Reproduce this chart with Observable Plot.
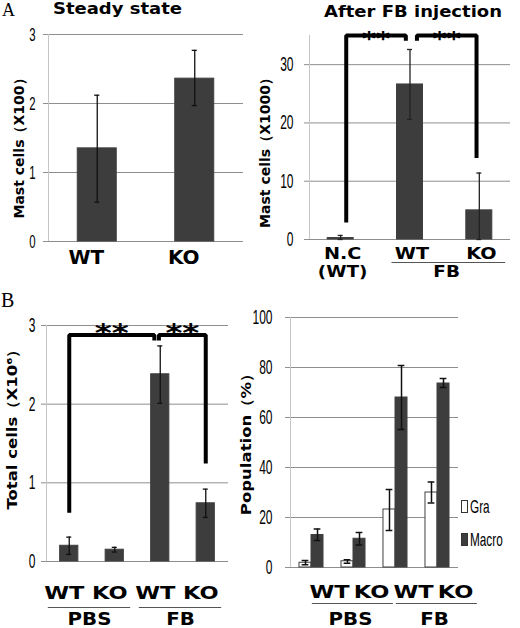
<!DOCTYPE html>
<html>
<head>
<meta charset="utf-8">
<script src="https://cdn.jsdelivr.net/npm/d3@7"></script>
<script src="https://cdn.jsdelivr.net/npm/@observablehq/plot@0.6"></script>
<style>
html,body{margin:0;padding:0;background:#fff;}
#fig{position:relative;width:520px;height:628px;overflow:hidden;background:#fff;}
#fig > svg, #fig > .txt{position:absolute;}
.txt{white-space:nowrap;color:#000;}
.title{font-family:"DejaVu Sans",Verdana,sans-serif;font-weight:bold;font-size:15px;line-height:18px;text-align:center;transform:scaleX(1.2);}
.letter{font-family:"Liberation Serif","DejaVu Serif",serif;}
.legend{font-family:"Liberation Sans",Arial,sans-serif;font-size:19px;line-height:19px;height:19px;display:flex;align-items:center;}
.sw{display:inline-block;width:7px;height:13px;margin-right:2px;box-sizing:border-box;border:1px solid #333;}
.legend .lab{display:inline-block;transform:scaleX(0.62);transform-origin:left center;}
</style>
</head>
<body>
<div id="fig"></div>
<script>
// ---------------- DATA ----------------
// Panel A, left: steady state
const steadyCategories = ["WT", "KO"];
const steadyMean = [1.35, 2.36];
const steadyLow = [0.57, 1.97];
const steadyHigh = [2.12, 2.77];
const steadyTicks = [0, 1, 2, 3];

// Panel A, right: after FB injection
const fbCategories = ["N.C", "WT", "KO"];
const fbGroupsOf = ["(WT)", "FB", "FB"];
const fbMean = [0.25, 26.6, 5.0];
const fbLow = [0, 20.6, 0];
const fbHigh = [0.7, 32.6, 11.4];
const fbTicks = [0, 10, 20, 30];
const fbBrackets = [
  {from: 0, to: 1, footFrom: 2.9, footTo: 34.1, top: 35, label: "**"},
  {from: 1, to: 2, footFrom: 34.1, footTo: 14, top: 35, label: "**"}
];

// Panel B, left: total cells
const totalCategories = ["WT", "KO", "WT", "KO"];
const totalGroupsOf = ["PBS", "PBS", "FB", "FB"];
const totalMean = [0.2, 0.15, 2.38, 0.74];
const totalLow = [0.09, 0.12, 2.01, 0.56];
const totalHigh = [0.31, 0.18, 2.74, 0.92];
const totalTicks = [0, 1, 2, 3];
const totalBrackets = [
  {from: 0, to: 2, footFrom: 0.62, footTo: 2.81, top: 2.88, label: "**"},
  {from: 2, to: 3, footFrom: 2.81, footTo: 1.245, top: 2.88, label: "**"}
];

// Panel B, right: population (%)
const popCategories = ["WT", "KO", "WT", "KO"];
const popGroupsOf = ["PBS", "PBS", "FB", "FB"];
const popSeries = ["Gra", "Macro"];
const graMean = [1.9, 2.5, 23.2, 30.0];
const graLow = [1.1, 1.7, 14.8, 25.8];
const graHigh = [2.8, 3.1, 31.2, 34.2];
const macroMean = [13.0, 11.5, 68.0, 73.6];
const macroLow = [10.8, 9.0, 55.2, 72.0];
const macroHigh = [15.4, 14.0, 80.8, 75.6];
const popTicks = [0, 20, 40, 60, 80, 100];

// ---------------- STYLE ----------------
const GRID = "#8e8e8e", AXIS = "#c6c6c6", BAR = "#3d3d3d";
const TICK_FONT = "'Liberation Sans', Arial, sans-serif";
const BOLD_FONT = "'DejaVu Sans', Verdana, sans-serif";
const fig = document.getElementById("fig");

function stretch(svg, tag, sx) {
  svg.querySelectorAll(`g[aria-description="${tag}"] text`).forEach(t => {
    t.setAttribute("transform", (t.getAttribute("transform") || "") + ` scale(${sx},1)`);
  });
}

function buildPanel(cfg) {
  const nS = cfg.series.length;
  const rows = [];
  cfg.series.forEach((s, si) => s.mean.forEach((v, i) =>
    rows.push({i, si, name: s.name, v, lo: s.low[i], hi: s.high[i]})));
  const bw = cfg.barWidth;
  const bx1 = d => d.i + (d.si - nS / 2) * bw;
  const bc = d => bx1(d) + bw / 2;
  const cats = cfg.categories.map((c, i) => ({c, i}));
  const groups = [];
  (cfg.groupsOf || []).forEach((g, i) => {
    const last = groups[groups.length - 1];
    if (last && last.label === g) last.to = i; else groups.push({label: g, from: i, to: i});
  });
  const [xmin] = cfg.xDomain;
  const [ymin, ymax] = cfg.yDomain;
  const brackets = (cfg.brackets || []).map((b, k) => {
    const xa = b.from + cfg.legOffsets[k][0], xb = b.to + cfg.legOffsets[k][1];
    return {...b, k, xa, xb, sx: (xa + xb) / 2};
  });
  const bracketPts = brackets.flatMap(b => [
    {k: b.k, x: b.xa, y: b.footFrom}, {k: b.k, x: b.xa, y: b.top},
    {k: b.k, x: b.xb, y: b.top}, {k: b.k, x: b.xb, y: b.footTo}
  ]);
  const marks = [
    Plot.ruleY(cfg.ticks, {stroke: GRID, strokeWidth: 1, insetLeft: -5}),
    Plot.ruleX([xmin], {y1: ymin, y2: ymax, stroke: AXIS, strokeWidth: 1}),
    Plot.text(cfg.ticks, {y: d => d, text: d => String(d), frameAnchor: "left", textAnchor: "end",
      lineAnchor: "middle", dx: -(5 + cfg.tickPad), fontFamily: TICK_FONT, fontSize: cfg.tickSize,
      fill: "black", ariaDescription: "ytick"}),
    Plot.rect(rows, {x1: bx1, x2: d => bx1(d) + bw, y1: ymin, y2: "v", fill: "name",
      stroke: "#404040", strokeWidth: 1}),
    Plot.ruleX(rows, {x: bc, y1: "lo", y2: "hi", stroke: cfg.errColor, strokeWidth: cfg.errWidth}),
    Plot.ruleY(rows, {y: "hi", x1: d => bc(d) - cfg.cap, x2: d => bc(d) + cfg.cap, stroke: cfg.errColor, strokeWidth: cfg.errWidth}),
    Plot.ruleY(rows, {y: "lo", x1: d => bc(d) - cfg.cap, x2: d => bc(d) + cfg.cap, stroke: cfg.errColor, strokeWidth: cfg.errWidth}),
    Plot.text(cats, {x: "i", text: "c", frameAnchor: "bottom", lineAnchor: "bottom", textAnchor: "middle",
      dy: cfg.catDy, dx: cfg.catDx, fontFamily: BOLD_FONT, fontWeight: "bold", fontSize: cfg.catSize,
      fill: "black", ariaDescription: "category"}),
    Plot.ruleY(groups.filter(g => g.to > g.from), {y: () => ymin, x1: g => g.from - cfg.groupPad[0],
      x2: g => g.to + cfg.groupPad[1], dy: cfg.groupLineDy, stroke: "#555", strokeWidth: 1}),
    Plot.text(groups, {x: g => (g.from + g.to) / 2, text: "label", frameAnchor: "bottom", lineAnchor: "bottom",
      textAnchor: "middle", dy: cfg.groupDy, dx: cfg.groupTextDx, fontFamily: BOLD_FONT, fontWeight: "bold",
      fontSize: cfg.groupSize, fill: "black", ariaDescription: "group"}),
    Plot.text(brackets, {x: "sx", y: "top", text: "label", lineAnchor: "bottom", textAnchor: "middle",
      dy: cfg.starDy, fontFamily: BOLD_FONT, fontWeight: "bold", fontSize: cfg.starSize, fill: "black",
      ariaDescription: "stars"}),
    Plot.line(bracketPts, {x: "x", y: "y", z: "k", stroke: "black", strokeWidth: 4,
      strokeLinejoin: "miter", strokeLinecap: "butt"}),
    Plot.text([cfg.yLabel], {text: d => d, frameAnchor: "left", rotate: -90, textAnchor: "middle",
      lineAnchor: "middle", dx: cfg.yLabelDx, dy: cfg.yLabelDy, fontFamily: BOLD_FONT, fontWeight: "bold",
      fontSize: 14, fill: "black", ariaDescription: "ylabel"})
  ];
  const svg = Plot.plot({
    width: cfg.width, height: cfg.height,
    marginLeft: cfg.mL, marginRight: cfg.mR, marginTop: cfg.mT, marginBottom: cfg.mB,
    x: {domain: cfg.xDomain, axis: null},
    y: {domain: cfg.yDomain, axis: null},
    color: {domain: cfg.series.map(s => s.name), range: cfg.series.map(s => s.fill)},
    style: {background: "transparent", overflow: "visible", fontFamily: TICK_FONT, fontSize: "18px", color: "black"},
    marks
  });
  stretch(svg, "ytick", 0.6);
  stretch(svg, "category", cfg.catScale);
  stretch(svg, "group", cfg.groupScale);
  stretch(svg, "stars", 1.35);
  stretch(svg, "ylabel", cfg.yLabelScale);
  svg.style.position = "absolute";
  svg.style.left = cfg.left + "px";
  svg.style.top = cfg.top + "px";
  fig.appendChild(svg);
  return svg;
}

// Panel A left
buildPanel({
  left: 0, top: 0, width: 260, height: 280, mL: 48, mR: 17, mT: 34, mB: 39,
  xDomain: [-0.5, 1.5], yDomain: [0, 3], ticks: steadyTicks, tickSize: 19, tickPad: 8,
  categories: steadyCategories,
  series: [{name: "Mast cells", mean: steadyMean, low: steadyLow, high: steadyHigh, fill: BAR}],
  barWidth: 0.4, cap: 0.026, errColor: "#111", errWidth: 1.3,
  catSize: 20, catScale: 1.0, catDy: 22, catDx: -11,
  yLabel: "Mast cells（X100）", yLabelDx: -29, yLabelDy: 7, yLabelScale: 1.0
});

// Panel A right
buildPanel({
  left: 250, top: 0, width: 270, height: 280, mL: 59, mR: 10, mT: 35, mB: 41,
  xDomain: [-0.45, 2.45], yDomain: [0, 35], ticks: fbTicks, tickSize: 20, tickPad: 11,
  categories: fbCategories, groupsOf: fbGroupsOf,
  series: [{name: "Mast cells", mean: fbMean, low: fbLow, high: fbHigh, fill: BAR}],
  barWidth: 0.375, cap: 0.036, errColor: "#222", errWidth: 1.3,
  catSize: 16, catScale: 1.2, catDy: 19, catDx: 2,
  groupSize: 16, groupScale: 1.15, groupDy: 37, groupTextDx: 2, groupLineDy: 23, groupPad: [0.26, 0.38],
  brackets: fbBrackets, legOffsets: [[0.08, -0.06], [0.10, -0.04]], starSize: 20, starDy: 9,
  yLabel: "Mast cells（X1000）", yLabelDx: -44, yLabelDy: 12, yLabelScale: 1.0
});

// Panel B left
buildPanel({
  left: 0, top: 280, width: 260, height: 348, mL: 46, mR: 32, mT: 45, mB: 67,
  xDomain: [-0.5, 3.5], yDomain: [0, 3], ticks: totalTicks, tickSize: 20, tickPad: 6,
  categories: totalCategories, groupsOf: totalGroupsOf,
  series: [{name: "Total cells", mean: totalMean, low: totalLow, high: totalHigh, fill: BAR}],
  barWidth: 0.4, cap: 0.055, errColor: "#111", errWidth: 1.3,
  catSize: 18, catScale: 1.25, catDy: 37, catDx: -5,
  groupSize: 18, groupScale: 1.1, groupDy: 63, groupTextDx: -2.5, groupLineDy: 46, groupPad: [0.46, 0.35],
  brackets: totalBrackets, legOffsets: [[0, -0.13], [-0.03, 0]], starSize: 24, starDy: 6,
  yLabel: "Total cells（X10⁶）", yLabelDx: -34, yLabelDy: -18, yLabelScale: 1.18
});

// Panel B right
buildPanel({
  left: 236, top: 280, width: 284, height: 348, mL: 54, mR: 62, mT: 37, mB: 61,
  xDomain: [-0.5, 3.5], yDomain: [0, 100], ticks: popTicks, tickSize: 20, tickPad: 13,
  categories: popCategories, groupsOf: popGroupsOf,
  series: [
    {name: popSeries[0], mean: graMean, low: graLow, high: graHigh, fill: "white"},
    {name: popSeries[1], mean: macroMean, low: macroLow, high: macroHigh, fill: BAR}
  ],
  barWidth: 0.286, cap: 0.08, errColor: "#111", errWidth: 1.5,
  catSize: 18, catScale: 1.25, catDy: 30, catDx: 18,
  groupSize: 18, groupScale: 1.1, groupDy: 57, groupTextDx: 18, groupLineDy: 36, groupPad: [-0.02, 0.95],
  yLabel: "Population（%）", yLabelDx: -44, yLabelDy: -2, yLabelScale: 1.18
});

// ---------------- HTML text: titles, panel letters, legend ----------------
function addText(html, cls, css) {
  const d = document.createElement("div");
  d.className = "txt " + cls;
  d.innerHTML = html;
  Object.assign(d.style, css);
  fig.appendChild(d);
  return d;
}
addText("Steady state", "title", {left: "0px", top: "0px", width: "235px"});
addText("After FB injection", "title", {left: "283px", top: "3px", width: "260px"});
addText("A", "letter", {left: "2px", top: "1px", fontSize: "18px", lineHeight: "18px"});
addText("B", "letter", {left: "1px", top: "290px", fontSize: "20px", lineHeight: "20px"});
const legendFills = ["white", BAR];
popSeries.forEach((s, k) => {
  addText(`<span class="sw" style="background:${legendFills[k]}"></span><span class="lab">${s}</span>`,
    "legend", {left: "461px", top: (497 + k * 33) + "px"});
});
</script>
</body>
</html>
